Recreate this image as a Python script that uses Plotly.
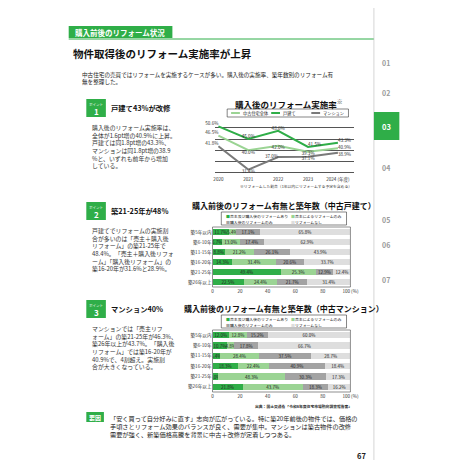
import plotly.graph_objects as go

W = H = 460
FONT = "Noto Sans CJK JP"

# ---- data ----
years = ["2020", "2021", "2022", "2023", "2024"]
year_labels = ["2020", "2021", "2022", "2023", "2024 (年度)"]
line_all = [46.5, 40.0, 42.0, 39.3, 40.9]
line_house = [50.6, 45.0, 48.6, 41.5, 43.3]
line_mansion = [41.8, 31.4, 37.0, 37.1, 38.9]
line_names = ["中古住宅全体", "戸建て", "マンション"]
line_textpos = [["top left", "bottom center", "bottom center", "bottom center", "middle right"],
                ["top left", "top center", "top center", "top right", "top right"],
                ["top left", "bottom center", "middle left", "bottom center", "bottom right"]]

age_cats = ["築5年以内", "築6-10年", "築11-15年", "築16-20年", "築21-25年", "築26年以上"]
seg_names = ["売主及び購入後のリフォームあり", "売主によるリフォームのみ", "購入後のリフォームのみ", "リフォームなし"]
house_both = [11.7, 6.7, 8.8, 14.3, 49.4, 22.5]
house_seller = [5.4, 13.0, 21.2, 31.4, 25.3, 24.4]
house_buyer = [17.1, 17.4, 26.1, 20.6, 12.9, 21.7]
house_none = [65.8, 62.9, 43.9, 33.7, 12.4, 31.4]
man_both = [12.0, 10.7, 5.4, 18.3, 4.0, 21.8]
man_seller = [12.8, 4.8, 28.4, 22.4, 48.3, 43.7]
man_buyer = [15.2, 17.8, 37.5, 40.9, 30.3, 18.3]
man_none = [60.0, 66.7, 28.7, 18.4, 17.3, 16.2]
bar_ticks = [0, 20, 40, 60, 80, 100]

GREEN = "#2fae48"
LGREEN = "#9bd494"
GRAY = "#a3a3a3"
LGRAY = "#dedede"
seg_colors = [GREEN, LGREEN, GRAY, LGRAY]
line_colors = [LGREEN, GREEN, "#7a7a7a"]

def px(x): return x / W
def py(y): return 1 - y / H

fig = go.Figure()

for name, vals, c, tp in zip(line_names, [line_all, line_house, line_mansion], line_colors, line_textpos):
    fig.add_trace(go.Scatter(x=years, y=vals, mode="lines+text", name=name,
                             line=dict(color=c, width=2),
                             text=[f"{v:.1f}%" for v in vals], textposition=tp,
                             textfont=dict(size=4.6, color="#333"),
                             xaxis="x", yaxis="y", showlegend=False, cliponaxis=False))

cats_rev = age_cats[::-1]
for vals_set, xa, ya in [([house_both, house_seller, house_buyer, house_none], "x2", "y2"),
                         ([man_both, man_seller, man_buyer, man_none], "x3", "y3")]:
    for name, vals, c in zip(seg_names, vals_set, seg_colors):
        fig.add_trace(go.Bar(y=cats_rev, x=vals[::-1], orientation="h", name=name,
                             marker=dict(color=c, line=dict(width=0)),
                             text=[f"{v:.1f}%" for v in vals[::-1]], textposition="inside",
                             insidetextanchor="middle", textangle=0,
                             textfont=dict(size=4.5, color="#222"),
                             xaxis=xa, yaxis=ya, showlegend=False, width=0.62))

ax_common = dict(showline=False, ticks="", tickfont=dict(size=4.6, color="#333", family=FONT))
fig.update_layout(
    width=W, height=H, margin=dict(l=0, r=0, t=0, b=0),
    paper_bgcolor="white", plot_bgcolor="white", barmode="stack",
    font=dict(family=FONT, color="#222"),
    uniformtext=dict(minsize=4, mode="show"),
    xaxis=dict(domain=[px(210), px(352)], anchor="y", showgrid=False, **ax_common,
               tickvals=years, ticktext=year_labels, range=[-0.1, 4.55]),
    yaxis=dict(domain=[py(167), py(113)], anchor="x", range=[29, 53], showgrid=True,
               gridcolor="#555", gridwidth=0.6, dtick=5, showticklabels=False, zeroline=False),
    xaxis2=dict(domain=[px(207), px(348)], anchor="y2", range=[0, 100], tickvals=bar_ticks,
                ticktext=["0", "20", "40", "60", "80", "100 (%)"], showgrid=False, **ax_common),
    yaxis2=dict(domain=[py(279), py(219)], anchor="x2", **ax_common, showgrid=False),
    xaxis3=dict(domain=[px(207), px(348)], anchor="y3", range=[0, 100], tickvals=bar_ticks,
                ticktext=["0", "20", "40", "60", "80", "100 (%)"], showgrid=False, **ax_common),
    yaxis3=dict(domain=[py(384), py(322)], anchor="x3", **ax_common, showgrid=False),
)

shapes = []
ann = []
def T(x, y, s, size=7, color="#222", bold=False, xa="left", ya="middle", bg=None):
    ann.append(dict(x=px(x), y=py(y), xref="paper", yref="paper", text=f"<b>{s}</b>" if bold else s,
                    showarrow=False, xanchor=xa, yanchor=ya, align="left",
                    font=dict(size=size, color=color, family=FONT), bgcolor=bg))
def R(x0, y0, x1, y1, fill=None, line=None, lw=0.8):
    shapes.append(dict(type="rect", xref="paper", yref="paper", x0=px(x0), x1=px(x1), y0=py(y1), y1=py(y0),
                       fillcolor=fill or "rgba(0,0,0,0)", line=dict(color=line or "rgba(0,0,0,0)", width=lw)))
def L(x0, y0, x1, y1, color="#333", w=0.8):
    shapes.append(dict(type="line", xref="paper", yref="paper", x0=px(x0), x1=px(x1), y0=py(y0), y1=py(y1),
                       line=dict(color=color, width=w)))

R(60, 18, 166, 30, fill=GREEN)
T(64, 24, "購入前後のリフォーム状況", 7.5, "white", True)
L(60, 31, 372, 31, GREEN, 1)
T(62, 46, "物件取得後のリフォーム実施率が上昇", 10.5, "#111", True)
T(72, 70, "中古住宅の売買ではリフォームを実施するケースが多い。購入後の実施率、築年数別のリフォーム有<br>無を整理した。", 5.6)

L(372, 0, 372, 460, "#bbb", 0.6)
for lab, y in [("01", 55), ("02", 85), ("04", 160), ("05", 212), ("06", 237), ("07", 272)]:
    T(384, y, lab, 7, "#9a9a9a", True, "center")
R(372, 104, 398, 132, fill=GREEN)
T(385, 118, "03", 7.5, "white", True, "center")

def point(y, num, head, body):
    R(78, y - 9, 98, y + 9, fill=GREEN)
    T(88, y - 4, "ポイント", 3.5, "white", False, "center")
    T(88, y + 3, num, 8, "white", True, "center")
    T(101, y, head, 7.3, "#111", True)
    T(82, y + 13, body, 5.9, "#333", ya="top")
point(100, "1", "戸建て43%が改修",
      "購入後のリフォーム実施率は、<br>全体が1.6pt増の40.9%に上昇。<br>戸建ては同1.8pt増の43.3%、<br>マンションは同1.8pt増の38.9<br>%と、いずれも前年から増加<br>している。")
point(203, "2", "築21-25年が48%",
      "戸建てでリフォームの実施割<br>合が多いのは「売主＋購入後<br>リフォーム」の築21-25年で<br>48.4%。「売主＋購入後リフォ<br>ーム」「購入後リフォーム」の<br>築16-20年が31.6%と28.9%。")
point(301, "3", "マンション40%",
      "マンションでは「売主リフ<br>ォーム」の築21-25年が46.3%、<br>築26年以上が43.7%。「購入後<br>リフォーム」では築16-20年が<br>40.9%で、4割超え。実施割<br>合が大きくなっている。")

T(285, 95, "購入後のリフォーム実施率<sup>※</sup>", 8.5, "#111", True, "center")
R(222, 101, 346, 109, line="#333", lw=0.6)
for i, (nm, c) in enumerate(zip(line_names, line_colors)):
    x0 = 226 + i * 41
    L(x0, 105, x0 + 9, 105, c, 2)
    T(x0 + 10, 105, nm, 4.2)
T(352, 178, "※リフォームした割合（1年以内にリフォームする予定を含める）", 3.8, "#333", xa="right")

for ty, tt in [(197, "購入前後のリフォーム有無と築年数（中古戸建て）"), (300, "購入前後のリフォーム有無と築年数（中古マンション）")]:
    T(280, ty, tt, 8, "#111", True, "center")
    R(216, ty + 7, 344, ty + 20, line="#333", lw=0.6)
    for i, (nm, c) in enumerate(zip(seg_names, seg_colors)):
        xx = 219 + (i % 2) * 66
        yy = ty + 10.5 + (i // 2) * 6
        T(xx, yy, f"<span style='color:{c}'>■</span>{nm}", 3.9)
R(207, 219, 348, 279, line="#444", lw=0.6)
R(207, 322, 348, 384, line="#444", lw=0.6)
T(352, 398, "出典：国土交通省「令和6年度住宅市場動向調査報告書」", 3.8, "#333", True, "right")

R(78, 404, 96, 414, fill=GREEN)
T(87, 409, "要因", 6, "white", True, "center")
T(100, 418, "「安く買って自分好みに直す」志向が広がっている。特に築20年前後の物件では、価格の<br>手頃さとリフォーム効果のバランスが良く、需要が集中。マンションは築古物件の改修<br>需要が強く、新築価格高騰を背景に中古＋改修が定着しつつある。", 6.2, "#222")
T(366, 447, "67", 7.5, "#222", True, "right")

fig.update_layout(shapes=shapes, annotations=ann)
fig.write_html("out.html")
